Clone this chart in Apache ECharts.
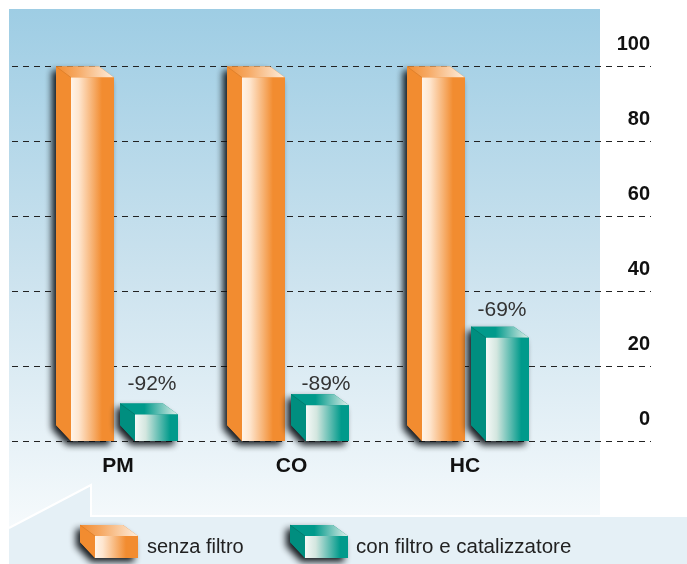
<!DOCTYPE html>
<html>
<head>
<meta charset="utf-8">
<style>html,body{margin:0;padding:0;background:#fff}#c{width:687px;height:564px}</style>
<script src="https://cdn.jsdelivr.net/npm/echarts@6/dist/echarts.min.js"></script>
</head>
<body>
<div id="c"></div>
<script>
const categories = ['PM', 'CO', 'HC'];
const seriesNames = ['senza filtro', 'con filtro e catalizzatore'];
const senzaFiltro = [100, 100, 100];
const conFiltro = [10, 12.5, 30.5];
const reductions = ['-92%', '-89%', '-69%'];
const yTicks = [0, 20, 40, 60, 80, 100];

const FONT = '"Liberation Sans", Arial, sans-serif';
const DX = 15, DY = 11, DROP = 16, W = 43;
const nudge = [0, -2.5, 4];
const labelDx = [32, 35, 31];
const labelDy = [19, 10, 17];
const lg = (stops, x2 = 1, y2 = 0) => ({ type: 'linear', x: 0, y: 0, x2, y2,
  colorStops: stops.map(([offset, color]) => ({ offset, color })) });
const palette = {
  orange: {
    side: '#f28c30', edge: '#d97a25',
    top: lg([[0, '#f28c30'], [0.35, '#f6a862'], [1, '#fdeede']]),
    front: lg([[0, '#fff4e9'], [0.18, '#fee6cf'], [0.72, '#f28c30'], [1, '#f28c30']])
  },
  teal: {
    side: '#008e7f', edge: '#007366',
    top: lg([[0, '#009a8b'], [0.42, '#009a8b'], [1, '#e3efea']]),
    front: lg([[0, '#f5f9f7'], [0.25, '#d3e6df'], [0.82, '#009a8b'], [1, '#009a8b']])
  }
};

// one extruded box; x = back-left, yt = back-top, yb = front-bottom
function box(x, yt, yb, c, label, ldx, ldy) {
  const fx = x + DX, fy = yt + DY;
  const kids = [
    { type: 'polygon', shape: { points: [[x, yt], [fx + W - DX, yt], [fx + W, fy], [fx + W, yb], [fx, yb], [x, yb - DROP]] },
      style: { fill: c.side, shadowBlur: 7, shadowColor: 'rgba(10,14,18,0.95)', shadowOffsetX: -4, shadowOffsetY: 4 } },
    { type: 'polygon', shape: { points: [[x, yt], [fx, fy], [fx, yb], [x, yb - DROP]] }, style: { fill: c.side } },
    { type: 'polygon', shape: { points: [[x, yt], [fx + W - DX, yt], [fx + W, fy], [fx, fy]] }, style: { fill: c.top } },
    { type: 'line', shape: { x1: x, y1: yt, x2: fx, y2: fy }, style: { stroke: c.edge, lineWidth: 0.7 } },
    { type: 'rect', shape: { x: fx, y: fy, width: W, height: yb - fy }, style: { fill: c.front } }
  ];
  if (label) kids.push({ type: 'text', x: x + ldx, y: yt - ldy,
    style: { text: label, fill: '#333', font: '21px ' + FONT, align: 'center', verticalAlign: 'middle' } });
  return { type: 'group', children: kids };
}
const barRender = (offset, c, labels) => (params, api) => {
  const i = api.value(0);
  const top = api.coord([i, api.value(1)]);
  const base = api.coord([i, 0]);
  return box(top[0] + offset + nudge[i], top[1], base[1], c, labels && labels[i], labelDx[i], labelDy[i]);
};

const chart = echarts.init(document.getElementById('c'), null, { renderer: 'canvas' });
chart.setOption({
  animation: false,
  grid: [
    { left: 31.25, width: 520.5, top: 66.5, height: 374.5 },
    { left: 12, width: 639, top: 66.5, height: 374.5 }
  ],
  xAxis: [
    { type: 'category', gridIndex: 0, data: categories,
      axisLine: { show: false }, axisTick: { show: false },
      axisLabel: { margin: 15, color: '#111', fontFamily: FONT, fontWeight: 'bold', fontSize: 21 } },
    { type: 'category', gridIndex: 1, show: false, data: categories }
  ],
  yAxis: [
    { type: 'value', gridIndex: 0, show: false, min: 0, max: 100, interval: 20, splitLine: { show: false } },
    { type: 'value', gridIndex: 1, position: 'right', min: 0, max: 100, interval: 20,
      axisLine: { show: false }, axisTick: { show: false },
      splitLine: { show: true, showMinLabel: true, lineStyle: { color: '#222', width: 1.2, type: [6, 5] } },
      axisLabel: { inside: true, margin: 1, align: 'right', verticalAlign: 'bottom', padding: [0, 0, 12, 0],
        color: '#111', fontFamily: FONT, fontWeight: 'bold', fontSize: 20,
        formatter: v => yTicks.includes(v) ? String(v) : '' } }
  ],
  series: [
    { type: 'custom', name: seriesNames[0], xAxisIndex: 0, yAxisIndex: 0, z: 3, clip: false,
      encode: { x: 0, y: 1 }, data: senzaFiltro.map((v, i) => [i, v]),
      renderItem: barRender(-62, palette.orange) },
    { type: 'custom', name: seriesNames[1], xAxisIndex: 0, yAxisIndex: 0, z: 4, clip: false,
      encode: { x: 0, y: 1 }, data: conFiltro.map((v, i) => [i, v]),
      renderItem: barRender(2, palette.teal, reductions) }
  ],
  graphic: [
    { type: 'rect', z: -10, silent: true, shape: { x: 9, y: 9, width: 591, height: 521 },
      style: { fill: lg([[0, '#9ecde4'], [0.5, '#cbe2ee'], [1, '#f6fafc']], 0, 1) } },
    { type: 'polygon', z: -9, silent: true, shape: { points: [[9, 528], [91, 485], [91, 516], [687, 516], [687, 564], [9, 564]] },
      style: { fill: '#e5f0f6' } },
    { type: 'polyline', z: -8, silent: true, shape: { points: [[9, 528], [91, 485], [91, 516], [687, 516]] },
      style: { stroke: '#fff', lineWidth: 2, fill: null } },
    Object.assign(box(80, 525, 558, palette.orange), { z: 5, silent: true }),
    Object.assign(box(290, 525, 558, palette.teal), { z: 5, silent: true }),
    { type: 'text', z: 5, silent: true, x: 147, y: 547,
      style: { text: seriesNames[0], fill: '#222', font: '20px ' + FONT, verticalAlign: 'middle' } },
    { type: 'text', z: 5, silent: true, x: 356, y: 547,
      style: { text: seriesNames[1], fill: '#222', font: '20.5px ' + FONT, verticalAlign: 'middle' } }
  ]
});
</script>
</body>
</html>
